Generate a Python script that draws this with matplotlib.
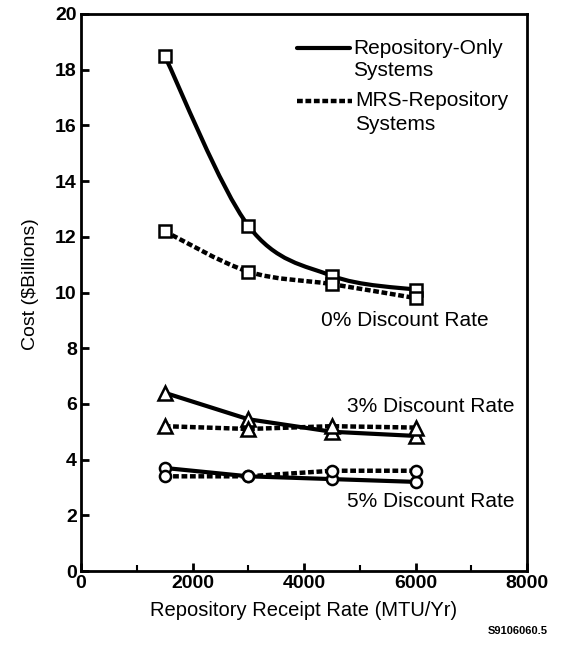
import numpy as np
import matplotlib
matplotlib.use("Agg")
import matplotlib.pyplot as plt
from matplotlib.path import Path
from matplotlib.patches import PathPatch
from matplotlib.lines import Line2D

plt.rcParams['font.family'] = ['Liberation Sans', 'DejaVu Sans']

receipt_rate = [1500, 3000, 4500, 6000]

repo_0 = [18.5, 12.4, 10.6, 10.1]
mrs_0 = [12.2, 10.75, 10.3, 9.8]
repo_3 = [6.4, 5.45, 5.0, 4.85]
mrs_3 = [5.2, 5.1, 5.2, 5.15]
repo_5 = [3.7, 3.4, 3.3, 3.2]
mrs_5 = [3.4, 3.4, 3.6, 3.6]

x_ticks = [0, 2000, 4000, 6000, 8000]
y_ticks = [0, 2, 4, 6, 8, 10, 12, 14, 16, 18, 20]

label_0 = "0% Discount Rate"
label_3 = "3% Discount Rate"
label_5 = "5% Discount Rate"

fig = plt.figure(figsize=(5.62, 6.55), dpi=100)
ax = fig.add_axes([81/562, 84/655, 446/562, 557/655])

solid_kw = dict(color='black', lw=3.0, solid_capstyle='round')
dash_kw = dict(color='black', lw=3.2, linestyle=(0, (1.3, 0.6)), dash_capstyle='butt')
mk_kw = dict(markerfacecolor='white', markeredgecolor='black', markeredgewidth=1.8,
             linestyle='none', zorder=5)


def smooth_path(xs, ys, tension=1/6):
    xs = np.asarray(xs, float); ys = np.asarray(ys, float)
    verts = [(xs[0], ys[0])]
    codes = [Path.MOVETO]
    n = len(xs)
    for i in range(n - 1):
        p0 = (xs[max(i-1, 0)], ys[max(i-1, 0)])
        p1 = (xs[i], ys[i]); p2 = (xs[i+1], ys[i+1])
        p3 = (xs[min(i+2, n-1)], ys[min(i+2, n-1)])
        c1 = (p1[0] + (p2[0]-p0[0])*tension, p1[1] + (p2[1]-p0[1])*tension)
        c2 = (p2[0] - (p3[0]-p1[0])*tension, p2[1] - (p3[1]-p1[1])*tension)
        verts += [c1, c2, p2]
        codes += [Path.CURVE4]*3
    return Path(verts, codes)


# 0% curves (smooth)
ax.add_patch(PathPatch(smooth_path(receipt_rate, repo_0), fill=False, edgecolor='black', lw=3.0, zorder=3))
ax.add_patch(PathPatch(smooth_path(receipt_rate, mrs_0), fill=False, edgecolor='black', lw=3.2,
                       linestyle=(0, (1.3, 0.6)), zorder=3))
ax.plot(receipt_rate, repo_0, marker='s', markersize=9, **mk_kw)
ax.plot(receipt_rate, mrs_0, marker='s', markersize=9, **mk_kw)

# 3%
ax.plot(receipt_rate, repo_3, **solid_kw, zorder=3)
ax.plot(receipt_rate, mrs_3, **dash_kw, zorder=3)
ax.plot(receipt_rate, repo_3, marker='^', markersize=10, **mk_kw)
ax.plot(receipt_rate, mrs_3, marker='^', markersize=10, **mk_kw)

# 5%
ax.plot(receipt_rate, repo_5, **solid_kw, zorder=3)
ax.plot(receipt_rate, mrs_5, **dash_kw, zorder=3)
ax.plot(receipt_rate, repo_5, marker='o', markersize=8, **mk_kw)
ax.plot(receipt_rate, mrs_5, marker='o', markersize=8, **mk_kw)

ax.set_xlim(0, 8000)
ax.set_ylim(0, 20)
ax.set_xticks(x_ticks)
ax.set_xticks([1000, 3000, 5000, 7000], minor=True)
ax.set_yticks(y_ticks)
ax.tick_params(axis='both', which='major', direction='in', length=6, width=2, labelsize=14, pad=3)
ax.tick_params(axis='x', which='minor', direction='in', length=4, width=1.5)
for lab in ax.get_xticklabels() + ax.get_yticklabels():
    lab.set_fontweight('bold')
for s in ax.spines.values():
    s.set_linewidth(2)

ax.set_xlabel("Repository Receipt Rate (MTU/Yr)", fontsize=14.5, labelpad=6)
ax.set_ylabel("Cost ($Billions)", fontsize=14)
ax.yaxis.set_label_coords(-0.095, 0.515)

ax.text(4300, 9.0, label_0, fontsize=15, va='center', ha='left')
ax.text(4780, 5.9, label_3, fontsize=15, va='center', ha='left')
ax.text(4780, 2.5, label_5, fontsize=15, va='center', ha='left')

# legend drawn manually in axes coords
tr = ax.transAxes
def ax_x(px):
    return (px - 81) / 446
def ax_y(py):
    return (571 - py) / 557
ax.add_line(Line2D([ax_x(297), ax_x(350)], [ax_y(48), ax_y(48)], transform=tr, **solid_kw))
ax.add_line(Line2D([ax_x(297), ax_x(352)], [ax_y(101), ax_y(101)], transform=tr, **dash_kw))
ax.text(ax_x(353), ax_y(48), "Repository-Only", transform=tr, fontsize=15, va='center', ha='left')
ax.text(ax_x(353), ax_y(71), "Systems", transform=tr, fontsize=15, va='center', ha='left')
ax.text(ax_x(355), ax_y(101), "MRS-Repository", transform=tr, fontsize=15, va='center', ha='left')
ax.text(ax_x(355), ax_y(124), "Systems", transform=tr, fontsize=15, va='center', ha='left')

fig.text(548/562, 1 - 631/655, "S9106060.5", fontsize=8, fontweight='bold', ha='right', va='center')

fig.savefig("out.png", dpi=100)
